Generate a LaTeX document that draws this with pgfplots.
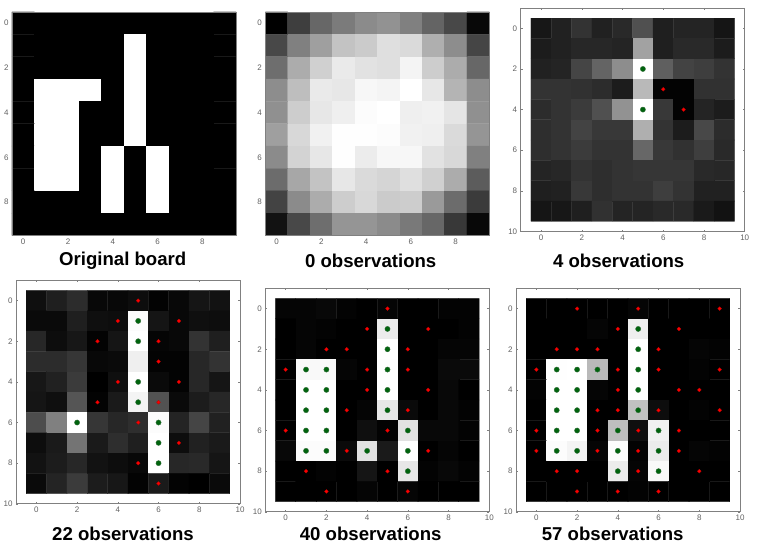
\documentclass[border=0pt]{standalone}
\usepackage{fontspec}
\setmainfont{Liberation Sans}
\usepackage{pgfplots}
\pgfplotsset{compat=1.18}
\definecolor{framegray}{gray}{0.5}
\definecolor{dotgreen}{rgb}{0,0.39,0.05}
\pgfplotsset{
  panel/.style={
    scale only axis, width=224pt, height=223.5pt, anchor=north west,
    y dir=reverse,
    xmin=-0.5, xmax=9.5, ymin=-0.5, ymax=9.5,
    xtick={0,2,4,6,8}, ytick={0,2,4,6,8},
    axis line style={framegray, line width=0.9pt},
    tick style={framegray, line width=0.5pt},
    major tick length=2pt,
    tick label style={font=\fontsize{8}{8}\selectfont, text=black!62},
    /pgf/number format/assume math mode=true,
    xticklabel shift=0pt, yticklabel shift=0pt,
    colormap={bw}{gray(0cm)=(0); gray(1cm)=(1)},
    point meta min=0, point meta max=1,
    axis on top,
  },
  tight/.style={panel, major tick length=0pt},
  wide/.style={panel, xmin=-1, xmax=10, ymin=-1, ymax=10,
    xtick={0,2,4,6,8,10}, ytick={0,2,4,6,8,10}},
  heat/.style={matrix plot*, mesh/cols=10, point meta=explicit, draw=mapped color, line width=0.25pt},
  hit/.style={only marks, mark=*, mark size=2.6pt, mark options={fill=dotgreen, draw=dotgreen!60!gray, line width=0.4pt}},
  miss/.style={only marks, mark=*, mark size=1.9pt, mark options={fill=red, draw=red!75!black, line width=0.3pt}},
}
\newcommand{\boardcap}[3]{\node[font=\fontsize{18.6}{19}\bfseries, text=black] at (#1pt,#2pt) {#3};}
\begin{document}
\begin{tikzpicture}
\useasboundingbox (0pt,0pt) rectangle (770pt,552pt);

% original board
\begin{axis}[tight, at={(12pt,540pt)}]
\addplot[heat] coordinates {
(0,0)[0] (1,0)[0] (2,0)[0] (3,0)[0] (4,0)[0] (5,0)[0] (6,0)[0] (7,0)[0] (8,0)[0] (9,0)[0]
(0,1)[0] (1,1)[0] (2,1)[0] (3,1)[0] (4,1)[0] (5,1)[1] (6,1)[0] (7,1)[0] (8,1)[0] (9,1)[0]
(0,2)[0] (1,2)[0] (2,2)[0] (3,2)[0] (4,2)[0] (5,2)[1] (6,2)[0] (7,2)[0] (8,2)[0] (9,2)[0]
(0,3)[0] (1,3)[1] (2,3)[1] (3,3)[1] (4,3)[0] (5,3)[1] (6,3)[0] (7,3)[0] (8,3)[0] (9,3)[0]
(0,4)[0] (1,4)[1] (2,4)[1] (3,4)[0] (4,4)[0] (5,4)[1] (6,4)[0] (7,4)[0] (8,4)[0] (9,4)[0]
(0,5)[0] (1,5)[1] (2,5)[1] (3,5)[0] (4,5)[0] (5,5)[1] (6,5)[0] (7,5)[0] (8,5)[0] (9,5)[0]
(0,6)[0] (1,6)[1] (2,6)[1] (3,6)[0] (4,6)[1] (5,6)[0] (6,6)[1] (7,6)[0] (8,6)[0] (9,6)[0]
(0,7)[0] (1,7)[1] (2,7)[1] (3,7)[0] (4,7)[1] (5,7)[0] (6,7)[1] (7,7)[0] (8,7)[0] (9,7)[0]
(0,8)[0] (1,8)[0] (2,8)[0] (3,8)[0] (4,8)[1] (5,8)[0] (6,8)[1] (7,8)[0] (8,8)[0] (9,8)[0]
(0,9)[0] (1,9)[0] (2,9)[0] (3,9)[0] (4,9)[0] (5,9)[0] (6,9)[0] (7,9)[0] (8,9)[0] (9,9)[0]
};
\end{axis}

% 0 observations
\begin{axis}[tight, at={(265.3pt,540pt)}]
\addplot[heat] coordinates {
(0,0)[0.00] (1,0)[0.24] (2,0)[0.40] (3,0)[0.48] (4,0)[0.54] (5,0)[0.57] (6,0)[0.50] (7,0)[0.39] (8,0)[0.28] (9,0)[0.03]
(0,1)[0.28] (1,1)[0.50] (2,1)[0.62] (3,1)[0.76] (4,1)[0.79] (5,1)[0.87] (6,1)[0.85] (7,1)[0.68] (8,1)[0.55] (9,1)[0.27]
(0,2)[0.43] (1,2)[0.67] (2,2)[0.81] (3,2)[0.91] (4,2)[0.88] (5,2)[0.87] (6,2)[0.95] (7,2)[0.80] (8,2)[0.67] (9,2)[0.40]
(0,3)[0.55] (1,3)[0.74] (2,3)[0.91] (3,3)[0.90] (4,3)[0.96] (5,3)[0.95] (6,3)[1.00] (7,3)[0.90] (8,3)[0.70] (9,3)[0.55]
(0,4)[0.56] (1,4)[0.80] (2,4)[0.90] (3,4)[0.93] (4,4)[0.98] (5,4)[1.00] (6,4)[0.93] (7,4)[0.94] (8,4)[0.89] (9,4)[0.56]
(0,5)[0.62] (1,5)[0.84] (2,5)[0.94] (3,5)[0.99] (4,5)[0.99] (5,5)[0.98] (6,5)[0.94] (7,5)[0.93] (8,5)[0.85] (9,5)[0.58]
(0,6)[0.54] (1,6)[0.82] (2,6)[0.90] (3,6)[0.99] (4,6)[0.92] (5,6)[0.96] (6,6)[0.96] (7,6)[0.88] (8,6)[0.84] (9,6)[0.50]
(0,7)[0.42] (1,7)[0.65] (2,7)[0.76] (3,7)[0.90] (4,7)[0.85] (5,7)[0.83] (6,7)[0.87] (7,7)[0.81] (8,7)[0.67] (9,7)[0.36]
(0,8)[0.26] (1,8)[0.54] (2,8)[0.67] (3,8)[0.80] (4,8)[0.84] (5,8)[0.79] (6,8)[0.80] (7,8)[0.60] (8,8)[0.42] (9,8)[0.23]
(0,9)[0.07] (1,9)[0.28] (2,9)[0.43] (3,9)[0.58] (4,9)[0.58] (5,9)[0.54] (6,9)[0.47] (7,9)[0.40] (8,9)[0.22] (9,9)[0.03]
};
\end{axis}

% 4 observations
\begin{axis}[wide, at={(520.7pt,544pt)}]
\addplot[heat] coordinates {
(0,0)[0.09] (1,0)[0.13] (2,0)[0.20] (3,0)[0.13] (4,0)[0.16] (5,0)[0.31] (6,0)[0.12] (7,0)[0.14] (8,0)[0.14] (9,0)[0.08]
(0,1)[0.11] (1,1)[0.13] (2,1)[0.15] (3,1)[0.15] (4,1)[0.14] (5,1)[0.63] (6,1)[0.12] (7,1)[0.16] (8,1)[0.16] (9,1)[0.11]
(0,2)[0.13] (1,2)[0.14] (2,2)[0.27] (3,2)[0.39] (4,2)[0.55] (5,2)[1.00] (6,2)[0.37] (7,2)[0.26] (8,2)[0.24] (9,2)[0.20]
(0,3)[0.20] (1,3)[0.20] (2,3)[0.19] (3,3)[0.17] (4,3)[0.11] (5,3)[0.72] (6,3)[0.01] (7,3)[0.01] (8,3)[0.19] (9,3)[0.19]
(0,4)[0.17] (1,4)[0.20] (2,4)[0.23] (3,4)[0.31] (4,4)[0.57] (5,4)[1.00] (6,4)[0.22] (7,4)[0.01] (8,4)[0.14] (9,4)[0.11]
(0,5)[0.18] (1,5)[0.20] (2,5)[0.26] (3,5)[0.22] (4,5)[0.22] (5,5)[0.68] (6,5)[0.20] (7,5)[0.11] (8,5)[0.28] (9,5)[0.17]
(0,6)[0.18] (1,6)[0.20] (2,6)[0.23] (3,6)[0.20] (4,6)[0.20] (5,6)[0.40] (6,6)[0.22] (7,6)[0.19] (8,6)[0.24] (9,6)[0.16]
(0,7)[0.14] (1,7)[0.15] (2,7)[0.20] (3,7)[0.18] (4,7)[0.20] (5,7)[0.21] (6,7)[0.21] (7,7)[0.21] (8,7)[0.16] (9,7)[0.15]
(0,8)[0.12] (1,8)[0.13] (2,8)[0.22] (3,8)[0.18] (4,8)[0.20] (5,8)[0.20] (6,8)[0.24] (7,8)[0.20] (8,8)[0.13] (9,8)[0.13]
(0,9)[0.08] (1,9)[0.09] (2,9)[0.12] (3,9)[0.19] (4,9)[0.14] (5,9)[0.14] (6,9)[0.16] (7,9)[0.16] (8,9)[0.10] (9,9)[0.07]
};
\addplot[hit] coordinates {(5,2) (5,4)};
\addplot[miss] coordinates {(6,3) (7,4)};
\end{axis}

% 22 observations
\begin{axis}[wide, at={(16pt,271.7pt)}]
\addplot[heat] coordinates {
(0,0)[0.06] (1,0)[0.12] (2,0)[0.17] (3,0)[0.03] (4,0)[0.03] (5,0)[0.05] (6,0)[0.01] (7,0)[0.03] (8,0)[0.08] (9,0)[0.07]
(0,1)[0.04] (1,1)[0.04] (2,1)[0.12] (3,1)[0.06] (4,1)[0.05] (5,1)[0.98] (6,1)[0.08] (7,1)[0.03] (8,1)[0.06] (9,1)[0.05]
(0,2)[0.15] (1,2)[0.05] (2,2)[0.09] (3,2)[0.01] (4,2)[0.08] (5,2)[1.00] (6,2)[0.02] (7,2)[0.03] (8,2)[0.20] (9,2)[0.12]
(0,3)[0.17] (1,3)[0.17] (2,3)[0.21] (3,3)[0.03] (4,3)[0.04] (5,3)[0.93] (6,3)[0.01] (7,3)[0.01] (8,3)[0.15] (9,3)[0.20]
(0,4)[0.09] (1,4)[0.13] (2,4)[0.23] (3,4)[0.00] (4,4)[0.06] (5,4)[1.00] (6,4)[0.04] (7,4)[0.01] (8,4)[0.15] (9,4)[0.08]
(0,5)[0.08] (1,5)[0.06] (2,5)[0.33] (3,5)[0.01] (4,5)[0.10] (5,5)[0.95] (6,5)[0.32] (7,5)[0.04] (8,5)[0.11] (9,5)[0.15]
(0,6)[0.30] (1,6)[0.50] (2,6)[1.00] (3,6)[0.21] (4,6)[0.15] (5,6)[0.18] (6,6)[0.98] (7,6)[0.14] (8,6)[0.27] (9,6)[0.13]
(0,7)[0.05] (1,7)[0.10] (2,7)[0.45] (3,7)[0.10] (4,7)[0.18] (5,7)[0.12] (6,7)[1.00] (7,7)[0.05] (8,7)[0.13] (9,7)[0.10]
(0,8)[0.07] (1,8)[0.11] (2,8)[0.15] (3,8)[0.07] (4,8)[0.05] (5,8)[0.03] (6,8)[1.00] (7,8)[0.15] (8,8)[0.16] (9,8)[0.08]
(0,9)[0.04] (1,9)[0.14] (2,9)[0.23] (3,9)[0.11] (4,9)[0.09] (5,9)[0.01] (6,9)[0.10] (7,9)[0.01] (8,9)[0.00] (9,9)[0.04]
};
\addplot[hit] coordinates {(5,1) (5,2) (5,4) (5,5) (2,6) (6,6) (6,7) (6,8)};
\addplot[miss] coordinates {(5,0) (4,1) (7,1) (3,2) (6,2) (6,3) (4,4) (7,4) (3,5) (6,5) (5,6) (7,7) (5,8) (6,9)};
\end{axis}

% 40 observations
\begin{axis}[wide, at={(265.3pt,263.7pt)}]
\addplot[heat] coordinates {
(0,0)[0.02] (1,0)[0.02] (2,0)[0.03] (3,0)[0.01] (4,0)[0.00] (5,0)[0.02] (6,0)[0.00] (7,0)[0.00] (8,0)[0.01] (9,0)[0.01]
(0,1)[0.00] (1,1)[0.02] (2,1)[0.01] (3,1)[0.00] (4,1)[0.00] (5,1)[0.92] (6,1)[0.00] (7,1)[0.00] (8,1)[0.00] (9,1)[0.01]
(0,2)[0.00] (1,2)[0.02] (2,2)[0.00] (3,2)[0.00] (4,2)[0.00] (5,2)[1.00] (6,2)[0.00] (7,2)[0.00] (8,2)[0.02] (9,2)[0.02]
(0,3)[0.00] (1,3)[0.97] (2,3)[0.97] (3,3)[0.02] (4,3)[0.00] (5,3)[0.99] (6,3)[0.00] (7,3)[0.00] (8,3)[0.04] (9,3)[0.04]
(0,4)[0.00] (1,4)[1.00] (2,4)[1.00] (3,4)[0.00] (4,4)[0.00] (5,4)[1.00] (6,4)[0.00] (7,4)[0.00] (8,4)[0.03] (9,4)[0.00]
(0,5)[0.00] (1,5)[1.00] (2,5)[1.00] (3,5)[0.00] (4,5)[0.02] (5,5)[0.90] (6,5)[0.04] (7,5)[0.00] (8,5)[0.03] (9,5)[0.01]
(0,6)[0.00] (1,6)[1.00] (2,6)[1.00] (3,6)[0.00] (4,6)[0.06] (5,6)[0.01] (6,6)[0.88] (7,6)[0.03] (8,6)[0.03] (9,6)[0.01]
(0,7)[0.03] (1,7)[0.98] (2,7)[0.98] (3,7)[0.04] (4,7)[0.88] (5,7)[0.10] (6,7)[1.00] (7,7)[0.00] (8,7)[0.02] (9,7)[0.00]
(0,8)[0.00] (1,8)[0.00] (2,8)[0.01] (3,8)[0.00] (4,8)[0.08] (5,8)[0.00] (6,8)[0.90] (7,8)[0.01] (8,8)[0.03] (9,8)[0.01]
(0,9)[0.00] (1,9)[0.00] (2,9)[0.00] (3,9)[0.00] (4,9)[0.02] (5,9)[0.00] (6,9)[0.02] (7,9)[0.00] (8,9)[0.00] (9,9)[0.00]
};
\addplot[hit] coordinates {(5,1) (5,2) (5,3) (5,4) (5,5) (1,3) (1,4) (1,5) (1,6) (1,7) (2,3) (2,4) (2,5) (2,6) (2,7) (4,7) (6,6) (6,7) (6,8)};
\addplot[miss] coordinates {(5,0) (4,1) (7,1) (2,2) (3,2) (6,2) (0,3) (4,3) (6,3) (4,4) (7,4) (3,5) (6,5) (0,6) (5,6) (3,7) (7,7) (1,8) (5,8) (2,9) (6,9)};
\end{axis}

% 57 observations
\begin{axis}[wide, at={(516pt,263.7pt)}]
\addplot[heat] coordinates {
(0,0)[0.00] (1,0)[0.00] (2,0)[0.00] (3,0)[0.00] (4,0)[0.00] (5,0)[0.02] (6,0)[0.00] (7,0)[0.00] (8,0)[0.00] (9,0)[0.00]
(0,1)[0.00] (1,1)[0.00] (2,1)[0.00] (3,1)[0.02] (4,1)[0.00] (5,1)[0.93] (6,1)[0.00] (7,1)[0.00] (8,1)[0.00] (9,1)[0.00]
(0,2)[0.00] (1,2)[0.00] (2,2)[0.00] (3,2)[0.00] (4,2)[0.00] (5,2)[1.00] (6,2)[0.00] (7,2)[0.00] (8,2)[0.02] (9,2)[0.01]
(0,3)[0.00] (1,3)[0.99] (2,3)[1.00] (3,3)[0.72] (4,3)[0.00] (5,3)[1.00] (6,3)[0.00] (7,3)[0.00] (8,3)[0.01] (9,3)[0.00]
(0,4)[0.01] (1,4)[1.00] (2,4)[1.00] (3,4)[0.02] (4,4)[0.00] (5,4)[1.00] (6,4)[0.00] (7,4)[0.00] (8,4)[0.00] (9,4)[0.00]
(0,5)[0.00] (1,5)[1.00] (2,5)[1.00] (3,5)[0.00] (4,5)[0.00] (5,5)[0.75] (6,5)[0.05] (7,5)[0.00] (8,5)[0.01] (9,5)[0.00]
(0,6)[0.00] (1,6)[1.00] (2,6)[1.00] (3,6)[0.00] (4,6)[0.74] (5,6)[0.06] (6,6)[0.94] (7,6)[0.00] (8,6)[0.00] (9,6)[0.00]
(0,7)[0.00] (1,7)[0.98] (2,7)[0.95] (3,7)[0.02] (4,7)[0.98] (5,7)[0.01] (6,7)[0.92] (7,7)[0.00] (8,7)[0.02] (9,7)[0.01]
(0,8)[0.00] (1,8)[0.00] (2,8)[0.00] (3,8)[0.00] (4,8)[0.92] (5,8)[0.02] (6,8)[0.97] (7,8)[0.00] (8,8)[0.00] (9,8)[0.00]
(0,9)[0.00] (1,9)[0.00] (2,9)[0.00] (3,9)[0.00] (4,9)[0.00] (5,9)[0.01] (6,9)[0.00] (7,9)[0.00] (8,9)[0.00] (9,9)[0.00]
};
\addplot[hit] coordinates {(5,1) (5,2) (5,3) (5,4) (5,5) (1,3) (1,4) (1,5) (1,6) (1,7) (2,3) (2,4) (2,5) (2,6) (2,7) (3,3) (4,6) (4,7) (4,8) (6,6) (6,7) (6,8)};
\addplot[miss] coordinates {(2,0) (5,0) (9,0) (4,1) (7,1) (1,2) (2,2) (3,2) (6,2) (0,3) (4,3) (6,3) (9,3) (4,4) (7,4) (8,4) (3,5) (4,5) (6,5) (9,5) (0,6) (3,6) (5,6) (7,6) (0,7) (3,7) (5,7) (7,7) (1,8) (2,8) (5,8) (8,8) (2,9) (4,9) (6,9)};
\end{axis}

\boardcap{122.7}{291}{Original board}
\boardcap{370.7}{291}{0 observations}
\boardcap{618.7}{291}{4 observations}
\boardcap{123}{18}{22 observations}
\boardcap{370.7}{18}{40 observations}
\boardcap{612.7}{18}{57 observations}
\end{tikzpicture}
\end{document}
